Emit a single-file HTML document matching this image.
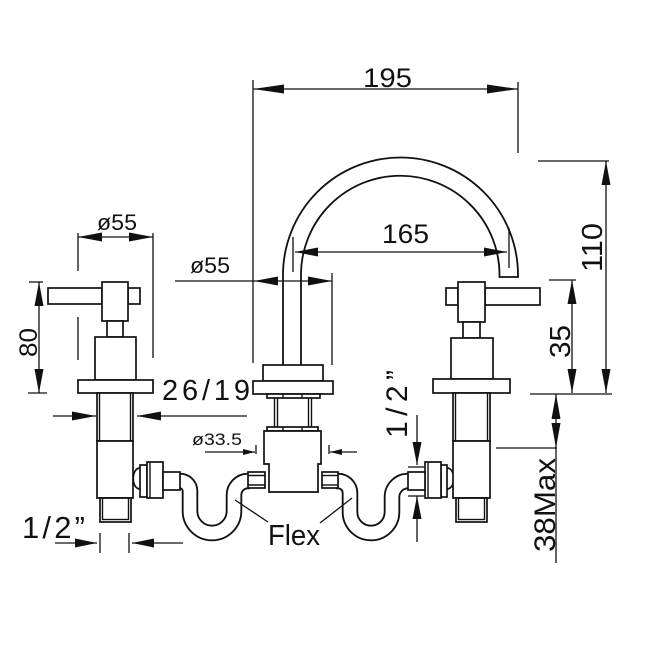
<!DOCTYPE html>
<html><head><meta charset="utf-8"><style>
html,body{margin:0;padding:0;background:#fff;}
svg{display:block;}
text{font-family:"Liberation Sans",sans-serif;fill:#111;}
</style></head><body>
<svg width="645" height="645" viewBox="0 0 645 645" xmlns="http://www.w3.org/2000/svg">
<rect width="645" height="645" fill="#fff"/>

<!-- hoses -->
<g fill="none" stroke-linecap="butt" stroke-linejoin="round">
  <path d="M178,481 L180,481 A10,10 0 0 1 190,491 L190,511 A22,22 0 0 0 234,511 L234,495 A14,14 0 0 1 248,481 L250,481" stroke="#111" stroke-width="16.5"/>
  <path d="M178,481 L180,481 A10,10 0 0 1 190,491 L190,511 A22,22 0 0 0 234,511 L234,495 A14,14 0 0 1 248,481 L250,481" stroke="#fff" stroke-width="12.8"/>
  <path d="M336,481 L338,481 A12,12 0 0 1 350,493 L350,512 A21,21 0 0 0 392,512 L392,497 A16,16 0 0 1 408,481 L410,481" stroke="#111" stroke-width="16.5"/>
  <path d="M336,481 L338,481 A12,12 0 0 1 350,493 L350,512 A21,21 0 0 0 392,512 L392,497 A16,16 0 0 1 408,481 L410,481" stroke="#fff" stroke-width="12.8"/>
</g>

<g fill="#fff" stroke="#111" stroke-width="1.7">
  <!-- left fitting -->
  <path d="M140,468 C131,468 131,489 140,489"/>
  <rect x="140" y="465" width="7" height="32"/>
  <rect x="147" y="462" width="16" height="36"/>
  <rect x="163" y="472" width="17" height="18"/>
  <!-- right fitting -->
  <path d="M447,468 C456,468 456,489 447,489"/>
  <rect x="441" y="465" width="6" height="32"/>
  <rect x="425" y="462" width="16" height="36"/>
  <rect x="408" y="472" width="17" height="18"/>

  <!-- center nipples -->
  <rect x="248" y="472" width="17" height="16"/>
  <rect x="322" y="472" width="16" height="16"/>

  <!-- LEFT VALVE -->
  <rect x="48" y="288" width="54" height="16"/>
  <rect x="128" y="288" width="12" height="16"/>
  <rect x="102" y="282" width="26" height="39"/>
  <rect x="107" y="321" width="16" height="16"/>
  <rect x="95" y="337" width="41" height="43"/>
  <rect x="78" y="380" width="75" height="13"/>
  <rect x="97" y="393" width="36" height="48"/>
  <rect x="97" y="441" width="36" height="57"/>
  <rect x="100" y="498" width="31" height="24"/>

  <!-- RIGHT VALVE -->
  <rect x="485" y="288" width="55" height="17"/>
  <rect x="446" y="288" width="12" height="17"/>
  <rect x="458" y="282" width="27" height="40"/>
  <rect x="463" y="322" width="17" height="16"/>
  <rect x="451" y="338" width="42" height="41"/>
  <rect x="433" y="379" width="77" height="14"/>
  <rect x="453" y="393" width="37" height="48"/>
  <rect x="453" y="441" width="37" height="57"/>
  <rect x="456" y="498" width="31" height="24"/>

  <!-- CENTER VALVE -->
  <rect x="263" y="365" width="60" height="16"/>
  <rect x="253" y="381" width="80" height="13"/>
  <rect x="267" y="394" width="53" height="4"/>
  <rect x="267" y="427" width="51" height="4"/>
  <path d="M264,431 L321,431 L321,464 L318,464 L318,492 L269,492 L269,464 L264,464 Z"/>
</g>

<g fill="none" stroke="#111" stroke-width="1.4">
  <line x1="150" y1="462" x2="150" y2="498"/>
  <line x1="428" y1="462" x2="428" y2="498"/>
  <line x1="248" y1="475.5" x2="265" y2="475.5"/>
  <line x1="248" y1="485" x2="265" y2="485"/>
  <line x1="322" y1="475.5" x2="338" y2="475.5"/>
  <line x1="322" y1="485" x2="338" y2="485"/>
  <line x1="99.5" y1="393" x2="99.5" y2="441"/>
  <line x1="130.5" y1="393" x2="130.5" y2="441"/>
  <line x1="455.5" y1="393" x2="455.5" y2="441"/>
  <line x1="487.5" y1="393" x2="487.5" y2="441"/>
  <rect x="102.5" y="498" width="26" height="21.5"/>
  <rect x="458.5" y="498" width="26" height="21.5"/>
  <line x1="274.5" y1="398" x2="274.5" y2="427"/>
  <line x1="277.5" y1="398" x2="277.5" y2="427"/>
  <line x1="308.5" y1="398" x2="308.5" y2="427"/>
  <line x1="311.5" y1="398" x2="311.5" y2="427"/>
  <line x1="283" y1="394" x2="283" y2="398"/>
  <line x1="302" y1="394" x2="302" y2="398"/>
  <line x1="283" y1="427" x2="283" y2="431"/>
  <line x1="302" y1="427" x2="302" y2="431"/>
  <path d="M283,365 L283,275 A117.5,117.5 0 0 1 518,275 L518,277 L499.5,277 L499.5,275 A99.25,99.25 0 0 0 301,275 L301,365" stroke-width="1.8"/>
</g>

<!-- DIMENSION LINES -->
<g fill="none" stroke="#111" stroke-width="1.3">
  <line x1="253" y1="89" x2="518" y2="89"/>
  <line x1="253" y1="80" x2="253" y2="363"/>
  <line x1="518" y1="82" x2="518" y2="153"/>
  <line x1="78" y1="237" x2="153" y2="237"/>
  <line x1="78" y1="233" x2="78" y2="271"/>
  <line x1="78" y1="317" x2="78" y2="360"/>
  <line x1="153" y1="233" x2="153" y2="358"/>
  <line x1="175" y1="281" x2="332" y2="281"/>
  <line x1="332" y1="273" x2="332" y2="365"/>
  <line x1="295" y1="252" x2="507" y2="252"/>
  <line x1="293" y1="237" x2="293" y2="272"/>
  <line x1="509" y1="228" x2="509" y2="268"/>
  <line x1="39" y1="282" x2="39" y2="393"/>
  <line x1="29" y1="282" x2="43" y2="282"/>
  <line x1="28" y1="393" x2="47" y2="393"/>
  <line x1="606" y1="161" x2="606" y2="393"/>
  <line x1="538" y1="161" x2="609" y2="161"/>
  <line x1="572" y1="280" x2="572" y2="393"/>
  <line x1="549" y1="280" x2="576" y2="280"/>
  <line x1="530" y1="394" x2="612" y2="394"/>
  <line x1="556" y1="394" x2="556" y2="563"/>
  <line x1="496" y1="448" x2="557" y2="448"/>
  <line x1="53" y1="416" x2="96" y2="416"/>
  <line x1="137" y1="416" x2="247" y2="416"/>
  <line x1="205" y1="452" x2="255" y2="452"/>
  <line x1="256" y1="445" x2="256" y2="454"/>
  <line x1="329" y1="445" x2="329" y2="454"/>
  <line x1="330" y1="452" x2="357" y2="452"/>
  <line x1="55" y1="543" x2="97" y2="543"/>
  <line x1="132" y1="543" x2="183" y2="543"/>
  <line x1="100" y1="533" x2="100" y2="553"/>
  <line x1="129" y1="533" x2="129" y2="553"/>
  <line x1="417" y1="415" x2="417" y2="465"/>
  <line x1="417" y1="496" x2="417" y2="542"/>
  <line x1="408" y1="467" x2="424" y2="467"/>
  <line x1="408" y1="496" x2="424" y2="496"/>
  <line x1="235" y1="500" x2="268" y2="522"/>
  <line x1="352" y1="498" x2="320" y2="523"/>
</g>

<!-- ARROWHEADS -->
<g fill="#111" stroke="none">
  <polygon points="253,89 284,84.5 284,93.5"/>
  <polygon points="518,89 487,84.5 487,93.5"/>
  <polygon points="78,237 102,232.5 102,241.5"/>
  <polygon points="153,237 129,232.5 129,241.5"/>
  <polygon points="254,281 278,276.5 278,285.5"/>
  <polygon points="332,281 308,276.5 308,285.5"/>
  <polygon points="295,252 318,247.5 318,256.5"/>
  <polygon points="507,252 484,247.5 484,256.5"/>
  <polygon points="39,282 34.5,306 43.5,306"/>
  <polygon points="39,393 34.5,369 43.5,369"/>
  <polygon points="606,161 601.5,185 610.5,185"/>
  <polygon points="606,393 601.5,369 610.5,369"/>
  <polygon points="572,280 567.5,304 576.5,304"/>
  <polygon points="572,393 567.5,369 576.5,369"/>
  <polygon points="556,394 551.5,419 560.5,419"/>
  <polygon points="556,448 551.5,423 560.5,423"/>
  <polygon points="96,416 72,411.5 72,420.5"/>
  <polygon points="137,416 161,411.5 161,420.5"/>
  <polygon points="255,452 243,449 243,455"/>
  <polygon points="330,452 342,449 342,455"/>
  <polygon points="97,543 75,538.5 75,547.5"/>
  <polygon points="132,543 154,538.5 154,547.5"/>
  <polygon points="417,465 412.5,442 421.5,442"/>
  <polygon points="417,496 412.5,519 421.5,519"/>
</g>

<!-- TEXT -->
<g>
  <text x="363" y="87" font-size="27" textLength="49" lengthAdjust="spacingAndGlyphs">195</text>
  <text x="97" y="230" font-size="22" textLength="40" lengthAdjust="spacingAndGlyphs">ø55</text>
  <text x="190" y="273" font-size="22" textLength="40" lengthAdjust="spacingAndGlyphs">ø55</text>
  <text x="382" y="243" font-size="27" textLength="47" lengthAdjust="spacingAndGlyphs">165</text>
  <text transform="translate(37,357) rotate(-90)" font-size="25" textLength="29" lengthAdjust="spacingAndGlyphs">80</text>
  <text transform="translate(602,272) rotate(-90)" font-size="29" textLength="49" lengthAdjust="spacingAndGlyphs">110</text>
  <text transform="translate(570,358) rotate(-90)" font-size="29" textLength="33" lengthAdjust="spacingAndGlyphs">35</text>
  <text transform="translate(555,552) rotate(-90)" font-size="30" textLength="94" lengthAdjust="spacingAndGlyphs">38Max</text>
  <text transform="translate(407,438) rotate(-90)" font-size="30" textLength="68" lengthAdjust="spacing">1/2”</text>
  <text x="162" y="400" font-size="29" textLength="88" lengthAdjust="spacing">26/19</text>
  <text x="192" y="445" font-size="17" textLength="50" lengthAdjust="spacingAndGlyphs">ø33.5</text>
  <text x="268" y="545" font-size="29" textLength="52" lengthAdjust="spacingAndGlyphs">Flex</text>
  <text x="22" y="538" font-size="31" textLength="63" lengthAdjust="spacing">1/2”</text>
</g>
</svg>
</body></html>
